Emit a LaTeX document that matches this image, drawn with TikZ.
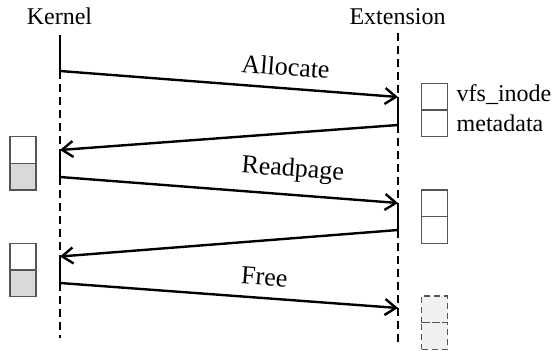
\documentclass[tikz,border=0pt]{standalone}
\usepackage{fontspec}
\setmainfont{Liberation Serif}
\usetikzlibrary{arrows.meta}
\definecolor{boxline}{HTML}{555555}
\definecolor{boxgray}{HTML}{D9D9D9}
\definecolor{boxlight}{HTML}{F0F0F0}
\begin{document}
\begin{tikzpicture}[x=1pt,y=-1pt,
  every node/.style={font=\fontsize{24}{28}\selectfont},
  life/.style={line width=2.6pt, dash pattern=on 8pt off 5pt},
  active/.style={line width=2.6pt},
  msg/.style={line width=2.4pt, -{Straight Barb[length=11pt,width=16pt,line width=2.4pt]}},
  lbl/.style={sloped, above=8pt, font=\fontsize{26}{30}\selectfont},
  cell/.style={draw=boxline, line width=1.2pt, minimum width=26pt, minimum height=26.7pt, inner sep=0pt, fill=white},
  gcell/.style={cell, fill=boxgray},
  dcell/.style={cell, fill=boxlight, dash pattern=on 6pt off 4pt},
  title/.style={anchor=base}
]
\useasboundingbox (0,0) rectangle (553,350);
% titles
\node[title] (kt) at (59.5,25) {Kernel};
\node[title] (et) at (397.5,25) {Extension};
% lifeline points
\coordinate (k0) at (60,35);
\coordinate (k1) at (60,71);
\coordinate (k2) at (60,150);
\coordinate (k3) at (60,177);
\coordinate (k4) at (60,256.5);
\coordinate (k5) at (60,283);
\coordinate (k6) at (60,338);
\coordinate (e0) at (398,33);
\coordinate (e1) at (398,97);
\coordinate (e2) at (398,125);
\coordinate (e3) at (398,203);
\coordinate (e4) at (398,230);
\coordinate (e5) at (398,308);
\coordinate (e6) at (398,343);
% kernel lifeline
\draw[active] (k0) -- (k1);
\draw[life] (k1) -- (k2);
\draw[active] (k2) -- (k3);
\draw[life] (k3) -- (k4);
\draw[active] (k4) -- (k5);
\draw[life] (k5) -- (k6);
% extension lifeline
\draw[life] (e0) -- (e1);
\draw[active] (e1) -- (e2);
\draw[life] (e2) -- (e3);
\draw[active] (e3) -- (e4);
\draw[life] (e4) -- (e6);
% messages
\draw[msg] (k1) -- node[lbl, pos=0.663] (la) {Allocate} (e1);
\draw[msg] (e2) -- (k2);
\draw[msg] (k3) -- node[lbl, pos=0.683] (lr) {Readpage} (e3);
\draw[msg] (e4) -- (k4);
\draw[msg] (k5) -- node[lbl, pos=0.6] (lf) {Free} (e5);
% right boxes
\node[cell] (r1a) at (434.7,96.7) {};
\node[cell] (r1b) at (434.7,123.3) {};
\node[anchor=base west, inner sep=0pt] (vfs) at (456.5,102) {vfs\_inode};
\node[anchor=base west, inner sep=0pt] (meta) at (456.5,131.5) {metadata};
\node[cell] (r2a) at (434.7,203.3) {};
\node[cell] (r2b) at (434.7,230) {};
\node[dcell] (r3a) at (434.7,309.3) {};
\node[dcell] (r3b) at (434.7,336) {};
% left boxes
\node[cell] (l1a) at (23,150) {};
\node[gcell] (l1b) at (23,176.7) {};
\node[cell] (l2a) at (23,256.7) {};
\node[gcell] (l2b) at (23,283.3) {};
\end{tikzpicture}
\end{document}
